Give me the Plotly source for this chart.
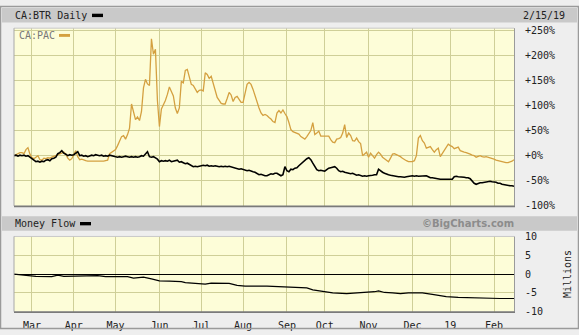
import pandas as pd
import plotly.graph_objects as go

W, H = 579, 335

# ---------------- data ----------------
holidays = ["2018-02-19", "2018-03-30", "2018-05-21", "2018-07-02", "2018-08-06",
            "2018-09-03", "2018-10-08", "2018-12-25", "2018-12-26", "2019-01-01"]
start_date = "2018-02-15"
end_date = "2019-02-15"

# CA:PAC, % change, one value per trading day, month by month
pac_feb18 = [0, 2, 3, 6, 6, 4, 12, 16, 3]
pac_mar18 = [-4, -6, -2, 0, -8, -9, -5, -6, -4, -5, -3, -2, 0, 2, 3, 5, 7, 3, -5, -9, -6]
pac_apr18 = [4, 10, -2, -8, -7, -9, -10, -11, -11, -12, -11, -12, -11, -12, -11, -11, -10, -9, 4, 7, 9]
pac_may18 = [12, 20, 28, 38, 40, 33, 42, 55, 103, 85, 72, 77, 70, 88, 135, 152, 143, 140, 233, 202, 212, 110]
pac_jun18 = [58, 93, 100, 110, 122, 137, 128, 119, 95, 84, 95, 148, 145, 170, 172, 155, 142, 140, 132, 126, 130]
pac_jul18 = [131, 129, 165, 162, 154, 158, 142, 126, 116, 110, 104, 103, 103, 114, 126, 121, 108, 116, 118, 112, 106]
pac_aug18 = [106, 122, 142, 146, 142, 132, 120, 104, 95, 85, 80, 82, 80, 76, 73, 68, 66, 85, 90, 85, 91, 84]
pac_sep18 = [78, 66, 52, 48, 46, 45, 43, 38, 35, 33, 38, 45, 50, 66, 42, 45, 49, 39, 39]
pac_oct18 = [39, 38, 39, 32, 27, 26, 33, 34, 36, 45, 62, 36, 45, 40, 30, 29, 35, 28, 24, 0, 4, 7]
pac_nov18 = [-3, 5, 0, -5, 2, 7, 3, -3, -6, -9, -12, -5, 3, 4, 2, 1, -2, -5, -8, -10, -12, -12]
pac_dec18 = [-12, -10, 0, 35, 40, 30, 25, 15, 16, 18, 12, 7, 12, 15, -2, 5, 10, 18, 23]
pac_jan19 = [20, 18, 14, 16, 17, 10, 8, 7, 6, 5, 3, 1, 0, -3, -2, 0, -2, -3, -2, -3, -4, -6]
pac_feb19 = [-7, -9, -10, -11, -13, -14, -14, -14, -13, -11, -8]

# CA:BTR, % change, one value per trading day
btr_feb18 = [0, 1, -1, 1, 0, 1, -1, 0, -3]
btr_mar18 = [-6, -10, -12, -11, -13, -11, -12, -9, -8, -10, -6, -5, -3, 4, 6, 10, 5, 3, 0, 2, 1]
btr_apr18 = [2, 6, 8, 0, 1, -1, 0, -2, -1, 1, 0, 2, 1, 0, 1, -1, 0, -1, 1, 0, -1]
btr_may18 = [-2, -3, -2, -3, -2, -1, -2, -3, -2, -3, -2, -3, -2, 0, -1, 3, 8, -2, -3, -2, -5, -7]
btr_jun18 = [-12, -10, -11, -10, -11, -9, -12, -11, -10, -9, -13, -12, -14, -16, -15, -17, -20, -22, -21, -22, -21]
btr_jul18 = [-20, -19, -20, -19, -21, -20, -21, -20, -21, -22, -21, -22, -21, -22, -21, -22, -23, -24, -25, -27, -26]
btr_aug18 = [-27, -28, -30, -29, -31, -32, -33, -35, -38, -37, -39, -40, -40, -38, -36, -37, -35, -35, -38, -40, -38, -22]
btr_sep18 = [-30, -32, -27, -28, -25, -24, -20, -16, -12, -9, -6, -4, -8, -15, -22, -28, -30, -29, -30]
btr_oct18 = [-31, -28, -25, -24, -23, -22, -25, -30, -32, -31, -33, -34, -35, -36, -35, -37, -39, -38, -40, -41, -40, -41]
btr_nov18 = [-40, -40, -39, -38, -38, -27, -31, -33, -35, -37, -38, -39, -40, -41, -41, -42, -42, -43, -43, -42, -41, -40]
btr_dec18 = [-40, -41, -40, -41, -41, -40, -41, -40, -42, -44, -44, -45, -46, -46, -47, -47, -47, -47, -46]
btr_jan19 = [-47, -47, -42, -41, -42, -42, -43, -43, -44, -44, -46, -51, -55, -57, -55, -54, -54, -53, -53, -52, -51, -52]
btr_feb19 = [-52, -53, -55, -55, -57, -58, -59, -59, -60, -60, -61]

# Money Flow (millions)
mf_dates = ["2018-02-15", "2018-02-27", "2018-03-05", "2018-03-15", "2018-03-20", "2018-03-23",
            "2018-03-29", "2018-04-03", "2018-04-10", "2018-04-18", "2018-04-24", "2018-05-04",
            "2018-05-09", "2018-05-14", "2018-05-22", "2018-05-28", "2018-06-01", "2018-06-08",
            "2018-06-18", "2018-06-20", "2018-06-27", "2018-07-05", "2018-07-10", "2018-07-13",
            "2018-07-23", "2018-07-27", "2018-08-02", "2018-08-20", "2018-08-28", "2018-08-30",
            "2018-09-07", "2018-09-13", "2018-09-18", "2018-09-21", "2018-09-26", "2018-10-01",
            "2018-10-05", "2018-10-17", "2018-10-29", "2018-11-06", "2018-11-08", "2018-11-13",
            "2018-11-19", "2018-11-23", "2018-11-29", "2018-12-05", "2018-12-10", "2018-12-17",
            "2018-12-21", "2018-12-28", "2019-01-08", "2019-01-15", "2019-01-22", "2019-01-28",
            "2019-01-31", "2019-02-06", "2019-02-15"]
mf_vals = [0, -0.3, -0.6, -0.7, -0.3, -0.6, -0.6, -0.4, -0.6, -0.4, -0.7, -0.6, -0.7, -1.1,
           -0.8, -1.3, -1.8, -1.9, -2.0, -2.3, -2.6, -2.7, -2.4, -2.5, -2.5, -3.0, -3.2, -3.2,
           -3.3, -3.5, -3.4, -3.5, -3.7, -4.2, -4.5, -4.8, -5.0, -5.2, -5.0, -4.7, -4.5, -4.9,
           -5.0, -5.2, -5.0, -5.1, -5.0, -5.4, -5.7, -6.0, -6.2, -6.3, -6.4, -6.3, -6.4, -6.5, -6.5]

month_ticks = ["2018-03-01", "2018-04-02", "2018-05-01", "2018-06-01", "2018-07-03", "2018-08-01",
               "2018-09-04", "2018-10-01", "2018-11-01", "2018-12-03", "2019-01-02", "2019-02-01"]
month_labels = ["Mar", "Apr", "May", "Jun", "Jul", "Aug", "Sep", "Oct", "Nov", "Dec", "19", "Feb"]
pct_ticks = [-100, -50, 0, 50, 100, 150, 200, 250]
pct_labels = ["-100%", "-50%", "+0%", "+50%", "+100%", "+150%", "+200%", "+250%"]
mf_ticks = [-10, -5, 0, 5, 10]
mf_labels = ["-10", "-5", "0", "5", "10"]

# trading calendar
days = [d.strftime("%Y-%m-%d") for d in pd.bdate_range(start_date, end_date)
        if d.strftime("%Y-%m-%d") not in holidays]
pac = (pac_feb18 + pac_mar18 + pac_apr18 + pac_may18 + pac_jun18 + pac_jul18 + pac_aug18 +
       pac_sep18 + pac_oct18 + pac_nov18 + pac_dec18 + pac_jan19 + pac_feb19)
btr = (btr_feb18 + btr_mar18 + btr_apr18 + btr_may18 + btr_jun18 + btr_jul18 + btr_aug18 +
       btr_sep18 + btr_oct18 + btr_nov18 + btr_dec18 + btr_jan19 + btr_feb19)
if len(days) != len(pac) or len(days) != len(btr):
    raise ValueError(f"length mismatch {len(days)} {len(pac)} {len(btr)}")

# ---------------- style ----------------
PAC_COLOR = "#d4a040"
GRID = "#cfcf98"
PLOT_BG = "#fdfdd8"
MONO = "DejaVu Sans Mono"
TXT = "#222222"


def fx(p):
    return p / W


def fy(p):
    return 1 - p / H


fig = go.Figure()
fig.add_trace(go.Scatter(x=days, y=pac, mode="lines", line=dict(color=PAC_COLOR, width=1.3),
                         xaxis="x", yaxis="y", hoverinfo="skip"))
fig.add_trace(go.Scatter(x=days, y=btr, mode="lines", line=dict(color="black", width=1.6),
                         xaxis="x", yaxis="y", hoverinfo="skip"))
fig.add_trace(go.Scatter(x=mf_dates, y=mf_vals, mode="lines", line=dict(color="black", width=1.2),
                         xaxis="x2", yaxis="y2", hoverinfo="skip"))

rb = [dict(bounds=["sat", "mon"]), dict(values=holidays)]
xcommon = dict(domain=[fx(14), fx(514)], range=[start_date, end_date], rangebreaks=rb,
               tickmode="array", tickvals=month_ticks, ticktext=month_labels,
               showgrid=True, gridcolor=GRID, gridwidth=1, zeroline=False, showline=False)
fig.update_layout(
    width=W, height=H, margin=dict(l=0, r=0, t=0, b=0),
    paper_bgcolor="#eeeeee", plot_bgcolor=PLOT_BG, showlegend=False,
    xaxis=dict(**xcommon, anchor="y", showticklabels=False),
    xaxis2=dict(**xcommon, anchor="y2", matches="x", showticklabels=True,
                ticks="outside", ticklen=4, tickcolor="rgba(0,0,0,0)",
                tickfont=dict(family=MONO, size=10, color=TXT)),
    yaxis=dict(domain=[fy(207.3), fy(23)], range=[-100, 254], side="right", anchor="x",
               tickmode="array", tickvals=pct_ticks, ticktext=pct_labels,
               showgrid=True, gridcolor=GRID, zeroline=False, showline=False,
               ticks="outside", ticklen=8, tickcolor="rgba(0,0,0,0)",
               tickfont=dict(family=MONO, size=10, color=TXT)),
    yaxis2=dict(domain=[fy(317), fy(239)], range=[-10, 10], side="right", anchor="x2",
                tickmode="array", tickvals=mf_ticks, ticktext=mf_labels,
                showgrid=True, gridcolor=GRID, zeroline=True, zerolinecolor="black",
                zerolinewidth=1, showline=False,
                ticks="outside", ticklen=8, tickcolor="rgba(0,0,0,0)",
                tickfont=dict(family=MONO, size=10, color=TXT)),
)

shapes = []


def rect(x0, y0, x1, y1, fill=None, line=None, lw=0, layer="above"):
    shapes.append(dict(type="rect", xref="paper", yref="paper", x0=fx(x0), x1=fx(x1),
                       y0=fy(y1), y1=fy(y0), fillcolor=fill if fill else "rgba(0,0,0,0)",
                       line=dict(color=line if line else "rgba(0,0,0,0)", width=lw), layer=layer))


def hline(x0, x1, y, color, lw):
    shapes.append(dict(type="line", xref="paper", yref="paper", x0=fx(x0), x1=fx(x1),
                       y0=fy(y), y1=fy(y), line=dict(color=color, width=lw), layer="above"))


def vline(x, y0, y1, color, lw):
    shapes.append(dict(type="line", xref="paper", yref="paper", x0=fx(x), x1=fx(x),
                       y0=fy(y0), y1=fy(y1), line=dict(color=color, width=lw), layer="above"))


# header bars
rect(2, 2, 577, 17, fill="#c9c9c9", layer="below")
rect(2, 218, 577, 233, fill="#c9c9c9", layer="below")
# plot frames
for (t, b) in [(23, 207.3), (239, 317)]:
    hline(14, 514, t, "#c8c8c8", 1)
    vline(14, t, b, "#a8a8a8", 1)
    vline(514.5, t, b, "#9a9a9a", 1)
    hline(14, 515, b + 0.5, "#7a7a7a", 1.6)
# outer frame
rect(0.5, 0.5, 578.5, 334.5, line="#9a9a9a", lw=1.5)
# legend swatches
rect(92, 8, 103, 11.5, fill="black")
rect(59, 29, 70, 32, fill=PAC_COLOR)
rect(80, 224, 91, 227.5, fill="black")

ann = []


def text(x, y, s, anchor="left", color=TXT, size=10, family=MONO, angle=0, bold=False):
    ann.append(dict(xref="paper", yref="paper", x=fx(x), y=fy(y), text=f"<b>{s}</b>" if bold else s,
                    showarrow=False, xanchor=anchor, yanchor="middle", textangle=angle,
                    font=dict(family=family, size=size, color=color), borderpad=0))


text(14, 10, "CA:BTR Daily")
text(566, 10, "2/15/19", anchor="right")
text(18, 31, "CA:PAC", color="#777777")
text(14, 226, "Money Flow")
text(515, 226, "©BigCharts.com", anchor="right", color="#8c8c8c", family="DejaVu Sans", size=10, bold=True)
text(567, 278, "Millions", anchor="center", angle=-90)

fig.update_layout(shapes=shapes, annotations=ann)
fig.write_html("out.html")
